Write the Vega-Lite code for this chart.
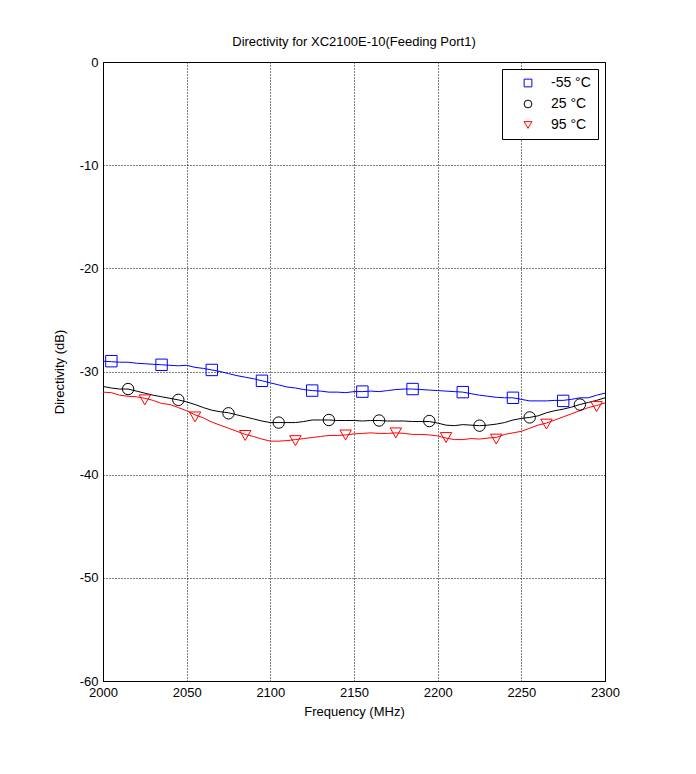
{
  "$schema": "https://vega.github.io/schema/vega-lite/v6.json",
  "autosize": "none",
  "width": 502,
  "height": 619,
  "padding": {"left": 103, "top": 62, "right": 91, "bottom": 93},
  "background": "white",
  "title": {"text": "Directivity for XC2100E-10(Feeding Port1)", "font": "Liberation Sans", "fontSize": 13, "fontWeight": "normal", "color": "black", "offset": 7},
  "config": {
    "font": "Liberation Sans",
    "view": {"stroke": "black", "strokeWidth": 1},
    "axis": {
      "labelFont": "Liberation Sans", "labelFontSize": 13, "labelColor": "black",
      "titleFont": "Liberation Sans", "titleFontSize": 13, "titleFontWeight": "normal", "titleColor": "black",
      "domainColor": "black", "tickColor": "black", "gridColor": "black", "gridDash": [1, 2], "gridOpacity": 1, "gridWidth": 1,
      "ticks": false, "labelPadding": 5
    }
  },
  "datasets": {
    "lines": [
      {"f":2000,"t":"a","d":-29.0},{"f":2005,"t":"a","d":-29.05},{"f":2010,"t":"a","d":-29.1},{"f":2015,"t":"a","d":-29.1},{"f":2020,"t":"a","d":-29.2},{"f":2025,"t":"a","d":-29.25},{"f":2030,"t":"a","d":-29.3},{"f":2035,"t":"a","d":-29.35},{"f":2040,"t":"a","d":-29.4},{"f":2045,"t":"a","d":-29.45},{"f":2050,"t":"a","d":-29.4},{"f":2055,"t":"a","d":-29.6},{"f":2060,"t":"a","d":-29.7},{"f":2065,"t":"a","d":-29.85},{"f":2070,"t":"a","d":-30.0},{"f":2075,"t":"a","d":-30.2},{"f":2080,"t":"a","d":-30.4},{"f":2085,"t":"a","d":-30.55},{"f":2090,"t":"a","d":-30.7},{"f":2095,"t":"a","d":-30.9},{"f":2100,"t":"a","d":-31.1},{"f":2105,"t":"a","d":-31.3},{"f":2110,"t":"a","d":-31.5},{"f":2115,"t":"a","d":-31.6},{"f":2120,"t":"a","d":-31.75},{"f":2125,"t":"a","d":-31.85},{"f":2130,"t":"a","d":-31.9},{"f":2135,"t":"a","d":-32.0},{"f":2140,"t":"a","d":-32.0},{"f":2145,"t":"a","d":-32.05},{"f":2150,"t":"a","d":-31.95},{"f":2155,"t":"a","d":-31.95},{"f":2160,"t":"a","d":-31.9},{"f":2165,"t":"a","d":-31.95},{"f":2170,"t":"a","d":-31.85},{"f":2175,"t":"a","d":-31.75},{"f":2180,"t":"a","d":-31.7},{"f":2185,"t":"a","d":-31.7},{"f":2190,"t":"a","d":-31.75},{"f":2195,"t":"a","d":-31.8},{"f":2200,"t":"a","d":-31.85},{"f":2205,"t":"a","d":-31.9},{"f":2210,"t":"a","d":-31.95},{"f":2215,"t":"a","d":-32.0},{"f":2220,"t":"a","d":-32.15},{"f":2225,"t":"a","d":-32.3},{"f":2230,"t":"a","d":-32.4},{"f":2235,"t":"a","d":-32.5},{"f":2240,"t":"a","d":-32.55},{"f":2245,"t":"a","d":-32.55},{"f":2250,"t":"a","d":-32.7},{"f":2255,"t":"a","d":-32.85},{"f":2260,"t":"a","d":-32.85},{"f":2265,"t":"a","d":-32.85},{"f":2270,"t":"a","d":-32.8},{"f":2275,"t":"a","d":-32.8},{"f":2280,"t":"a","d":-32.7},{"f":2285,"t":"a","d":-32.55},{"f":2290,"t":"a","d":-32.55},{"f":2295,"t":"a","d":-32.3},{"f":2300,"t":"a","d":-32.1},

      {"f":2000,"t":"b","d":-31.45},{"f":2005,"t":"b","d":-31.6},{"f":2010,"t":"b","d":-31.7},{"f":2015,"t":"b","d":-31.7},{"f":2020,"t":"b","d":-31.9},{"f":2025,"t":"b","d":-32.1},{"f":2030,"t":"b","d":-32.3},{"f":2035,"t":"b","d":-32.45},{"f":2040,"t":"b","d":-32.6},{"f":2045,"t":"b","d":-32.75},{"f":2050,"t":"b","d":-32.95},{"f":2055,"t":"b","d":-33.2},{"f":2060,"t":"b","d":-33.5},{"f":2065,"t":"b","d":-33.75},{"f":2070,"t":"b","d":-33.9},{"f":2075,"t":"b","d":-34.0},{"f":2080,"t":"b","d":-34.2},{"f":2085,"t":"b","d":-34.4},{"f":2090,"t":"b","d":-34.6},{"f":2095,"t":"b","d":-34.8},{"f":2100,"t":"b","d":-34.95},{"f":2105,"t":"b","d":-34.95},{"f":2110,"t":"b","d":-34.95},{"f":2115,"t":"b","d":-34.95},{"f":2120,"t":"b","d":-34.85},{"f":2125,"t":"b","d":-34.7},{"f":2130,"t":"b","d":-34.7},{"f":2135,"t":"b","d":-34.7},{"f":2140,"t":"b","d":-34.75},{"f":2145,"t":"b","d":-34.75},{"f":2150,"t":"b","d":-34.75},{"f":2155,"t":"b","d":-34.8},{"f":2160,"t":"b","d":-34.75},{"f":2165,"t":"b","d":-34.75},{"f":2170,"t":"b","d":-34.8},{"f":2175,"t":"b","d":-34.8},{"f":2180,"t":"b","d":-34.8},{"f":2185,"t":"b","d":-34.85},{"f":2190,"t":"b","d":-34.85},{"f":2195,"t":"b","d":-34.85},{"f":2200,"t":"b","d":-35.0},{"f":2205,"t":"b","d":-35.2},{"f":2210,"t":"b","d":-35.25},{"f":2215,"t":"b","d":-35.15},{"f":2220,"t":"b","d":-35.2},{"f":2225,"t":"b","d":-35.25},{"f":2230,"t":"b","d":-35.2},{"f":2235,"t":"b","d":-35.1},{"f":2240,"t":"b","d":-34.95},{"f":2245,"t":"b","d":-34.7},{"f":2250,"t":"b","d":-34.55},{"f":2255,"t":"b","d":-34.45},{"f":2260,"t":"b","d":-34.3},{"f":2265,"t":"b","d":-34.0},{"f":2270,"t":"b","d":-33.8},{"f":2275,"t":"b","d":-33.65},{"f":2280,"t":"b","d":-33.45},{"f":2285,"t":"b","d":-33.2},{"f":2290,"t":"b","d":-33.0},{"f":2295,"t":"b","d":-32.8},{"f":2300,"t":"b","d":-32.55},

      {"f":2000,"t":"c","d":-32.0},{"f":2005,"t":"c","d":-32.05},{"f":2010,"t":"c","d":-32.3},{"f":2015,"t":"c","d":-32.4},{"f":2020,"t":"c","d":-32.45},{"f":2025,"t":"c","d":-32.6},{"f":2030,"t":"c","d":-32.8},{"f":2035,"t":"c","d":-33.1},{"f":2040,"t":"c","d":-33.2},{"f":2045,"t":"c","d":-33.5},{"f":2050,"t":"c","d":-33.8},{"f":2055,"t":"c","d":-34.2},{"f":2060,"t":"c","d":-34.5},{"f":2065,"t":"c","d":-34.9},{"f":2070,"t":"c","d":-35.2},{"f":2075,"t":"c","d":-35.5},{"f":2080,"t":"c","d":-35.8},{"f":2085,"t":"c","d":-36.1},{"f":2090,"t":"c","d":-36.3},{"f":2095,"t":"c","d":-36.55},{"f":2100,"t":"c","d":-36.75},{"f":2105,"t":"c","d":-36.75},{"f":2110,"t":"c","d":-36.7},{"f":2115,"t":"c","d":-36.6},{"f":2120,"t":"c","d":-36.5},{"f":2125,"t":"c","d":-36.4},{"f":2130,"t":"c","d":-36.3},{"f":2135,"t":"c","d":-36.2},{"f":2140,"t":"c","d":-36.2},{"f":2145,"t":"c","d":-36.15},{"f":2150,"t":"c","d":-36.05},{"f":2155,"t":"c","d":-36.0},{"f":2160,"t":"c","d":-35.95},{"f":2165,"t":"c","d":-36.0},{"f":2170,"t":"c","d":-36.0},{"f":2175,"t":"c","d":-35.95},{"f":2180,"t":"c","d":-36.0},{"f":2185,"t":"c","d":-36.1},{"f":2190,"t":"c","d":-36.1},{"f":2195,"t":"c","d":-36.15},{"f":2200,"t":"c","d":-36.25},{"f":2205,"t":"c","d":-36.45},{"f":2210,"t":"c","d":-36.6},{"f":2215,"t":"c","d":-36.6},{"f":2220,"t":"c","d":-36.5},{"f":2225,"t":"c","d":-36.55},{"f":2230,"t":"c","d":-36.45},{"f":2235,"t":"c","d":-36.4},{"f":2240,"t":"c","d":-36.1},{"f":2245,"t":"c","d":-35.95},{"f":2250,"t":"c","d":-35.8},{"f":2255,"t":"c","d":-35.5},{"f":2260,"t":"c","d":-35.2},{"f":2265,"t":"c","d":-35.0},{"f":2270,"t":"c","d":-34.7},{"f":2275,"t":"c","d":-34.4},{"f":2280,"t":"c","d":-34.1},{"f":2285,"t":"c","d":-33.8},{"f":2290,"t":"c","d":-33.5},{"f":2295,"t":"c","d":-33.3},{"f":2300,"t":"c","d":-33.05}
    ],
    "markers": [
      {"f":2005,"s":"-55 °C","d":-29.0},{"f":2035,"s":"-55 °C","d":-29.35},{"f":2065,"s":"-55 °C","d":-29.85},{"f":2095,"s":"-55 °C","d":-30.9},{"f":2125,"s":"-55 °C","d":-31.85},{"f":2155,"s":"-55 °C","d":-31.95},{"f":2185,"s":"-55 °C","d":-31.7},{"f":2215,"s":"-55 °C","d":-32.0},{"f":2245,"s":"-55 °C","d":-32.55},{"f":2275,"s":"-55 °C","d":-32.85},
      {"f":2015,"s":"25 °C","d":-31.7},{"f":2045,"s":"25 °C","d":-32.75},{"f":2075,"s":"25 °C","d":-34.05},{"f":2105,"s":"25 °C","d":-34.95},{"f":2135,"s":"25 °C","d":-34.7},{"f":2165,"s":"25 °C","d":-34.75},{"f":2195,"s":"25 °C","d":-34.8},{"f":2225,"s":"25 °C","d":-35.25},{"f":2255,"s":"25 °C","d":-34.45},{"f":2285,"s":"25 °C","d":-33.2},
      {"f":2025,"s":"95 °C","d":-32.75},{"f":2055,"s":"95 °C","d":-34.4},{"f":2085,"s":"95 °C","d":-36.2},{"f":2115,"s":"95 °C","d":-36.7},{"f":2145,"s":"95 °C","d":-36.15},{"f":2175,"s":"95 °C","d":-35.95},{"f":2205,"s":"95 °C","d":-36.4},{"f":2235,"s":"95 °C","d":-36.55},{"f":2265,"s":"95 °C","d":-35.1},{"f":2295,"s":"95 °C","d":-33.4}
    ]
  },
  "layer": [
    {
      "data": {"name": "lines"},
      "mark": {"type": "line", "strokeWidth": 1, "clip": true},
      "encoding": {
        "x": {"field": "f", "type": "quantitative", "scale": {"domain": [2000, 2300], "nice": false}, "axis": {"title": "Frequency (MHz)", "values": [2000,2050,2100,2150,2200,2250,2300], "format": "d", "labelFlush": false, "titlePadding": 6}},
        "y": {"field": "d", "type": "quantitative", "scale": {"domain": [-60, 0], "nice": false}, "axis": {"title": "Directivity (dB)", "values": [-60,-50,-40,-30,-20,-10,0], "labelExpr": "datum.value + ''", "labelFlush": false, "titlePadding": 13}},
        "stroke": {"field": "t", "type": "nominal", "scale": {"domain": ["a", "b", "c"], "range": ["#0000ff", "#000000", "#ff0000"]}, "legend": null}
      }
    },
    {
      "data": {"name": "markers"},
      "mark": {"type": "point", "filled": false, "strokeWidth": 1, "size": 130, "opacity": 1},
      "encoding": {
        "x": {"field": "f", "type": "quantitative"},
        "y": {"field": "d", "type": "quantitative"},
        "color": {"field": "s", "type": "nominal", "scale": {"domain": ["-55 °C", "25 °C", "95 °C"], "range": ["#0000ff", "#000000", "#ff0000"]},
          "legend": {"title": null, "orient": "top-right", "offset": 7, "strokeColor": "black", "fillColor": "white", "padding": 7, "labelFont": "Liberation Sans", "labelFontSize": 14, "labelColor": "black", "labelOffset": 16, "symbolSize": 60, "symbolStrokeWidth": 1, "rowPadding": 7, "symbolOffset": 12, "labelExpr": "(datum.label == '-55 °C' ? '' : '\u00a0\u00a0') + datum.label + '\u2009'"}},
        "shape": {"field": "s", "type": "nominal", "scale": {"domain": ["-55 °C", "25 °C", "95 °C"], "range": ["square", "circle", "triangle-down"]},
          "legend": {"title": null, "orient": "top-right", "offset": 7, "strokeColor": "black", "fillColor": "white", "padding": 7, "labelFont": "Liberation Sans", "labelFontSize": 14, "labelColor": "black", "labelOffset": 16, "symbolSize": 60, "symbolStrokeWidth": 1, "rowPadding": 7, "symbolOffset": 12, "labelExpr": "(datum.label == '-55 °C' ? '' : '\u00a0\u00a0') + datum.label + '\u2009'"}}
      }
    }
  ]
}
